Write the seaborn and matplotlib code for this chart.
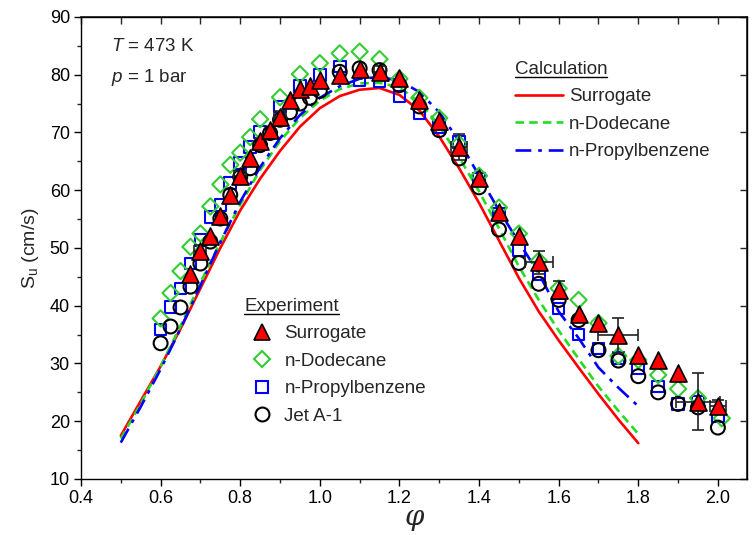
import numpy as np
import pandas as pd
import seaborn as sns
import matplotlib.pyplot as plt
from matplotlib.lines import Line2D
from matplotlib.ticker import MultipleLocator

sns.set_theme(style='ticks')
plt.rcParams['font.family'] = ['Liberation Sans', 'DejaVu Sans']
plt.rcParams['mathtext.fontset'] = 'custom'
plt.rcParams['mathtext.rm'] = 'Liberation Sans'
plt.rcParams['mathtext.it'] = 'Liberation Sans:italic'

# Calculation curves (phi vs laminar flame speed, cm/s)
phi_calc = [0.50, 0.55, 0.60, 0.65, 0.70, 0.75, 0.80, 0.85, 0.90, 0.95,
            1.00, 1.05, 1.10, 1.15, 1.20, 1.25, 1.30, 1.35, 1.40, 1.45,
            1.50, 1.55, 1.60, 1.65, 1.70, 1.75, 1.80]
calc_surrogate = [17.5, 23.5, 29.5, 36.0, 43.0, 50.0, 56.5, 62.0, 66.8, 71.0,
                  74.2, 76.3, 77.4, 77.7, 76.5, 73.8, 69.3, 63.8, 57.8, 51.3,
                  44.8, 39.0, 34.0, 29.3, 24.7, 20.3, 16.2]
calc_dodecane = [17.0, 23.0, 29.5, 36.5, 44.0, 51.0, 57.5, 63.5, 68.5, 72.5,
                 75.5, 77.5, 78.5, 78.6, 77.8, 75.3, 71.2, 65.7, 59.8, 53.4,
                 46.8, 41.0, 35.7, 30.8, 26.0, 21.8, 17.8]
calc_propylbenzene = [16.3, 22.5, 29.0, 36.0, 43.5, 51.0, 58.0, 64.0, 69.0, 73.0,
                      76.0, 78.0, 79.3, 79.6, 79.0, 77.0, 73.5, 68.5, 62.5, 56.5,
                      51.0, 45.6, 39.0, 34.4, 29.3, 25.8, 22.6]

# Experiment: surrogate (triangles)
phi_sur = [0.675, 0.70, 0.725, 0.75, 0.775, 0.80, 0.825, 0.85, 0.875, 0.90,
           0.925, 0.95, 0.975, 1.00, 1.05, 1.10, 1.15, 1.20, 1.25, 1.30,
           1.35, 1.40, 1.45, 1.50, 1.55, 1.60, 1.65, 1.70, 1.75, 1.80,
           1.85, 1.90, 1.95, 2.00]
su_sur = [45.5, 49.5, 52.0, 55.5, 59.2, 62.4, 65.5, 68.6, 70.5, 72.7,
          75.6, 77.6, 78.0, 79.0, 80.0, 81.0, 80.5, 79.4, 75.7, 72.0,
          67.5, 62.1, 56.3, 52.0, 47.5, 42.7, 38.6, 37.0, 34.9, 31.5,
          30.6, 28.4, 23.4, 22.6]
# error bars on some surrogate points
phi_err = [0.70, 0.80, 0.90, 1.15, 1.35, 1.55, 1.60, 1.75, 1.95, 2.00]
su_err = [49.5, 62.4, 72.7, 80.5, 67.5, 47.5, 42.7, 34.9, 23.4, 22.6]
xerr = [0.015, 0.015, 0.015, 0.015, 0.02, 0.035, 0.0, 0.05, 0.055, 0.02]
yerr = [1.0, 1.0, 1.0, 1.0, 2.3, 2.0, 1.5, 3.0, 5.0, 1.0]

# Experiment: n-Dodecane (diamonds)
phi_dod = [0.60, 0.625, 0.65, 0.675, 0.70, 0.725, 0.75, 0.775, 0.80, 0.825,
           0.85, 0.90, 0.95, 1.00, 1.05, 1.10, 1.15, 1.20, 1.25, 1.30,
           1.35, 1.40, 1.45, 1.50, 1.55, 1.60, 1.65, 1.70, 1.75, 1.80,
           1.85, 1.90, 1.95, 2.01]
su_dod = [37.8, 42.2, 46.0, 50.2, 52.5, 57.2, 61.0, 64.4, 66.5, 69.2,
          72.3, 76.1, 80.1, 82.0, 83.7, 84.0, 82.7, 79.3, 76.0, 72.5,
          68.0, 62.5, 57.0, 52.5, 47.8, 43.0, 41.0, 37.0, 31.3, 30.6,
          28.0, 25.6, 24.0, 20.5]

# Experiment: n-Propylbenzene (squares)
phi_pb = [0.60, 0.625, 0.65, 0.675, 0.70, 0.725, 0.75, 0.775, 0.80, 0.825,
          0.85, 0.90, 0.95, 1.00, 1.05, 1.10, 1.15, 1.20, 1.25, 1.30,
          1.35, 1.40, 1.45, 1.50, 1.55, 1.60, 1.65, 1.70, 1.75, 1.80,
          1.85, 1.90, 1.95, 2.00]
su_pb = [35.9, 39.8, 43.0, 47.3, 51.4, 55.4, 57.4, 61.2, 64.7, 67.5,
         70.1, 74.5, 78.0, 80.0, 81.4, 79.1, 78.8, 76.2, 73.3, 71.0,
         68.4, 62.0, 56.0, 49.7, 45.5, 39.5, 35.0, 32.6, 30.9, 29.2,
         26.0, 23.0, 23.4, 20.8]

# Experiment: Jet A-1 (circles)
phi_jet = [0.60, 0.625, 0.65, 0.675, 0.70, 0.725, 0.75, 0.775, 0.80, 0.825,
           0.85, 0.875, 0.90, 0.925, 0.95, 0.975, 1.00, 1.05, 1.10, 1.15,
           1.20, 1.25, 1.30, 1.35, 1.40, 1.45, 1.50, 1.55, 1.60, 1.65,
           1.70, 1.75, 1.80, 1.85, 1.90, 1.95, 2.00]
su_jet = [33.5, 36.4, 39.7, 43.3, 47.3, 51.1, 55.1, 59.2, 62.3, 63.8,
          67.8, 69.9, 72.2, 73.5, 75.0, 76.0, 77.2, 80.5, 81.1, 80.8,
          78.2, 74.5, 70.4, 65.5, 60.5, 53.2, 47.4, 43.8, 41.0, 37.5,
          32.3, 30.5, 27.8, 25.0, 23.0, 22.4, 18.9]

RED = '#ff0000'
GREEN = '#22dd22'
BLUE = '#0000ff'

fig = plt.figure(figsize=(7.52, 5.35), dpi=100)
ax = fig.add_axes([0.1077, 0.1047, 0.8856, 0.8636])

calc_df = pd.DataFrame({'phi': phi_calc, 'sur': calc_surrogate,
                        'dod': calc_dodecane, 'pb': calc_propylbenzene})
lw = 1.9
sns.lineplot(data=calc_df, x='phi', y='sur', color=RED, lw=lw, ax=ax, zorder=2)
sns.lineplot(data=calc_df, x='phi', y='dod', color=GREEN, lw=lw,
             linestyle=(0, (3.2, 2.0)), ax=ax, zorder=2)
sns.lineplot(data=calc_df, x='phi', y='pb', color=BLUE, lw=lw,
             linestyle=(0, (6, 2.6, 1.4, 2.6)), ax=ax, zorder=2)

# experimental markers
sns.scatterplot(x=phi_pb, y=su_pb, marker='s', s=70, facecolor='none',
                edgecolor=BLUE, linewidth=1.5, ax=ax, zorder=3)
sns.scatterplot(x=phi_dod, y=su_dod, marker='D', s=68, facecolor='none',
                edgecolor='#33cc33', linewidth=1.5, ax=ax, zorder=3)
sns.scatterplot(x=phi_jet, y=su_jet, marker='o', s=100, facecolor='none',
                edgecolor='black', linewidth=1.5, ax=ax, zorder=4)
ax.errorbar(phi_err, su_err, xerr=xerr, yerr=yerr, fmt='none', ecolor='#222222',
            elinewidth=1.2, capsize=4, capthick=1.2, zorder=4.5)
sns.scatterplot(x=phi_sur, y=su_sur, marker='^', s=150, color=RED,
                edgecolor='black', linewidth=1.2, ax=ax, zorder=5)

ax.set_xlim(0.4, 2.073)
ax.set_ylim(10, 90)
ax.xaxis.set_major_locator(MultipleLocator(0.2))
ax.xaxis.set_minor_locator(MultipleLocator(0.1))
ax.yaxis.set_major_locator(MultipleLocator(10))
ax.yaxis.set_minor_locator(MultipleLocator(5))
ax.tick_params(which='major', direction='out', length=5, width=1,
               labelsize=13, colors='black', pad=3)
ax.tick_params(which='minor', direction='out', length=3, width=1)
ax.set_xticks(np.arange(0.4, 2.01, 0.2))
ax.set_xticklabels([f'{v:.1f}' for v in np.arange(0.4, 2.01, 0.2)])
for sp in ax.spines.values():
    sp.set_linewidth(1.0)
    sp.set_color('black')

# inward ticks on top and right
top = ax.secondary_xaxis('top')
top.xaxis.set_major_locator(MultipleLocator(0.1))
top.tick_params(direction='in', length=5, width=1, labeltop=False)
right = ax.secondary_yaxis('right')
right.yaxis.set_major_locator(MultipleLocator(10))
right.tick_params(direction='in', length=5, width=1, labelright=False)

ax.set_xlabel('φ', fontsize=20, family='DejaVu Serif', style='italic', labelpad=-2.5)
ax.set_ylabel('S$_\\mathregular{u}$ (cm/s)', fontsize=14, labelpad=6)

ax.text(0.045, 0.935, '$T$ = 473 K', transform=ax.transAxes, fontsize=13.5, va='center')
ax.text(0.045, 0.87, '$p$ = 1 bar', transform=ax.transAxes, fontsize=13.5, va='center')

calc_handles = [Line2D([], [], color=RED, lw=lw),
                Line2D([], [], color=GREEN, lw=lw, linestyle=(0, (3.2, 2.0))),
                Line2D([], [], color=BLUE, lw=lw, linestyle=(0, (6, 2.6, 1.4, 2.6)))]
calc_labels = ['Surrogate', 'n-Dodecane', 'n-Propylbenzene']
leg1 = ax.legend(calc_handles, calc_labels, title='Calculation', loc='upper left',
                 bbox_to_anchor=(0.651, 0.905), frameon=False, fontsize=13.5,
                 title_fontsize=13.5, handlelength=2.6, handletextpad=0.3,
                 labelspacing=0.55, borderpad=0, borderaxespad=0, alignment='left')
ax.add_artist(leg1)

exp_handles = [Line2D([], [], ls='none', marker='^', ms=12, mfc=RED, mec='black', mew=1.2),
               Line2D([], [], ls='none', marker='D', ms=8.2, mfc='none', mec='#33cc33', mew=1.5),
               Line2D([], [], ls='none', marker='s', ms=8.3, mfc='none', mec=BLUE, mew=1.5),
               Line2D([], [], ls='none', marker='o', ms=10, mfc='none', mec='black', mew=1.5)]
exp_labels = ['Surrogate', 'n-Dodecane', 'n-Propylbenzene', 'Jet A-1']
leg2 = ax.legend(exp_handles, exp_labels, title='Experiment', loc='upper left',
                 bbox_to_anchor=(0.245, 0.392), frameon=False, fontsize=13.5,
                 title_fontsize=13.5, handlelength=1.9, handletextpad=0.25,
                 labelspacing=0.55, borderpad=0, borderaxespad=0, alignment='left')

# underline the legend titles
fig.canvas.draw()
inv = fig.transFigure.inverted()
for lg in (leg1, leg2):
    bb = lg.get_title().get_window_extent()
    (x0, y0), (x1, _) = inv.transform([[bb.x0, bb.y0 + 1.0], [bb.x1, bb.y0]])
    fig.add_artist(Line2D([x0, x1], [y0, y0], transform=fig.transFigure,
                          color='black', lw=1.0))

fig.savefig('out.png', dpi=100)
